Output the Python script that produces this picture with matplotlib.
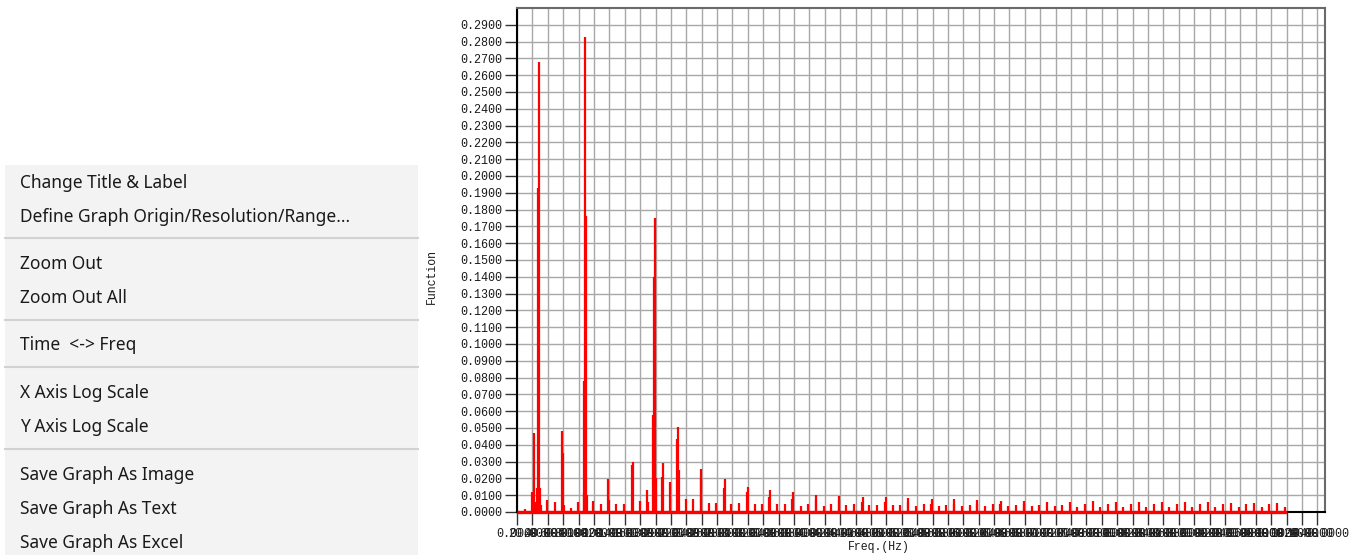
import matplotlib.pyplot as plt
import numpy as np
from matplotlib.patches import Rectangle
from matplotlib.lines import Line2D

peak_freq = [
    10, 19.5, 20.5, 22.4, 24, 26, 27.6, 28.9, 30.3, 31.5,
    38.5, 49.3, 58.5, 59.8, 61.2, 70, 78.7, 86.5, 87.6, 88.9, 90.1, 91.3,
    99, 109, 118.5, 119.8, 129, 138.5, 148.8, 150.2, 160, 168.6, 170,
    177, 178, 179.2, 180.5, 188, 189.3, 198.4, 207.5, 208.8, 210, 219, 229,
    238.5, 239.6, 249, 258.5, 268.8, 270, 278.5, 288.5, 298.5, 299.6,
    309, 318.6, 328, 329, 338.5, 348.5, 358, 359.3, 368.5, 378.5, 388, 388.9,
    398.8, 408.5, 418, 419, 428, 438, 448, 449, 458, 468, 478, 478.9,
    488, 498, 507.5, 508.5, 518.5, 528.3, 538.3, 539.2, 548.2, 558.1,
    567.5, 568.3, 578.1, 588.1, 597.5, 598.2, 608.1, 618, 628, 628.8,
    638.1, 648.1, 658.2, 659, 668.9, 678.8, 688.6, 698.5, 708.5, 718.4,
    728.3, 738.3, 748.3, 758.2, 768.2, 778.2, 788.1, 798.1, 808.1, 818,
    828, 838, 847.9, 857.9, 867.9, 877.8, 887.8, 897.8, 907.7, 917.7,
    927.7, 937.6, 947.6, 957.6, 967.5, 977.5, 987.5, 997.4,
]
peak_amp = [
    0.0015, 0.012, 0.0105, 0.047, 0.006, 0.014, 0.193, 0.268, 0.014, 0.004,
    0.007, 0.006, 0.048, 0.035, 0.004, 0.0025, 0.006, 0.012, 0.078, 0.283, 0.176, 0.010,
    0.0067, 0.005, 0.0196, 0.007, 0.005, 0.005, 0.028, 0.030, 0.0067, 0.013, 0.006,
    0.058, 0.140, 0.175, 0.020, 0.021, 0.029, 0.018, 0.0435, 0.0506, 0.025, 0.0077, 0.0077,
    0.020, 0.0256, 0.0052, 0.0056, 0.014, 0.0195, 0.005, 0.0052, 0.012, 0.015,
    0.0047, 0.005, 0.009, 0.013, 0.0047, 0.0048, 0.008, 0.012, 0.0036, 0.0048, 0.007, 0.010,
    0.0038, 0.0046, 0.007, 0.0097, 0.0044, 0.0046, 0.006, 0.0091, 0.004, 0.0044, 0.006, 0.009,
    0.004, 0.0044, 0.006, 0.0083, 0.0038, 0.0046, 0.005, 0.0076, 0.0036, 0.0044,
    0.005, 0.0076, 0.0036, 0.0044, 0.005, 0.0072, 0.0038, 0.0046, 0.0045, 0.0067,
    0.0038, 0.0044, 0.0045, 0.0064, 0.0036, 0.0044, 0.0062, 0.0036, 0.0044, 0.0061,
    0.003, 0.005, 0.0063, 0.003, 0.005, 0.006, 0.003, 0.005, 0.006, 0.003,
    0.005, 0.006, 0.003, 0.005, 0.0058, 0.003, 0.005, 0.0058, 0.003, 0.005,
    0.0056, 0.003, 0.005, 0.0056, 0.003, 0.005, 0.0055, 0.003,
]
freq_range = [0, 1000]

x_ticks = np.arange(0, 1041, 20)
y_ticks = np.arange(0, 0.2901, 0.01)

menu_groups = [
    ["Change Title & Label", "Define Graph Origin/Resolution/Range..."],
    ["Zoom Out", "Zoom Out All"],
    ["Time  <-> Freq"],
    ["X Axis Log Scale", "Y Axis Log Scale"],
    ["Save Graph As Image", "Save Graph As Text", "Save Graph As Excel"],
]

W, H = 1355, 555
fig = plt.figure(figsize=(W / 100, H / 100), dpi=100)
fig.patch.set_facecolor("white")


def fx(px):
    return px / W


def fy(py):
    return 1 - py / H


# Menu contextuel à gauche
fig.add_artist(Rectangle((fx(5), 0), fx(413), fy(165), transform=fig.transFigure,
                         facecolor="#f3f3f3", edgecolor="none", zorder=0))
y = 182.5
for g, group in enumerate(menu_groups):
    for item in group:
        fig.text(fx(20), fy(y), item, fontsize=12.5, family="Noto Sans", color="#1a1a1a",
                 ha="left", va="center")
        y += 34
    if g < len(menu_groups) - 1:
        sep = y - 12.5
        fig.add_artist(Line2D([fx(5), fx(418)], [fy(sep), fy(sep)], transform=fig.transFigure,
                              color="#d2d2d2", linewidth=1.5))
        y += 13.5

# Graphique
ax = fig.add_axes([fx(517), fy(512), fx(1325 - 517), (512 - 8) / H])
ax.vlines(peak_freq, 0, peak_amp, color="red", linewidth=1.6, zorder=3)
ax.plot(freq_range, [0, 0], color="red", linewidth=2.4, zorder=4, clip_on=False,
        solid_capstyle="butt")

ax.set_xlim(0, 1050)
ax.set_ylim(0, 0.30)
ax.set_xticks(x_ticks)
ax.set_xticklabels([f"{v:.4f}" for v in x_ticks])
ax.set_yticks(y_ticks)
ax.set_yticklabels([f"{v:.4f}" for v in y_ticks])
ax.grid(True, color="#a8a8a8", linewidth=1.0)
ax.set_axisbelow(True)

mono = "Liberation Mono"
for lab in ax.get_xticklabels() + ax.get_yticklabels():
    lab.set_family(mono)
    lab.set_fontsize(8.5)
    lab.set_color("#1a1a1a")
ax.tick_params(axis="both", direction="out", length=9, width=1.0, color="#333333")
ax.tick_params(axis="y", pad=1.5)
ax.tick_params(axis="x", pad=2.5)

for side in ["left", "bottom"]:
    ax.spines[side].set_color("black")
    ax.spines[side].set_linewidth(1.5)
for side in ["top", "right"]:
    ax.spines[side].set_color("#6a6a6a")
    ax.spines[side].set_linewidth(1.5)

fig.text(fx(879), fy(547), "Freq.(Hz)", family=mono, fontsize=8.3, color="#1a1a1a",
         ha="center", va="center")
fig.text(fx(432), fy(276), "Function", family=mono, fontsize=8.3, color="#1a1a1a",
         ha="center", va="center", rotation=90)

fig.savefig("out.png", dpi=100)
